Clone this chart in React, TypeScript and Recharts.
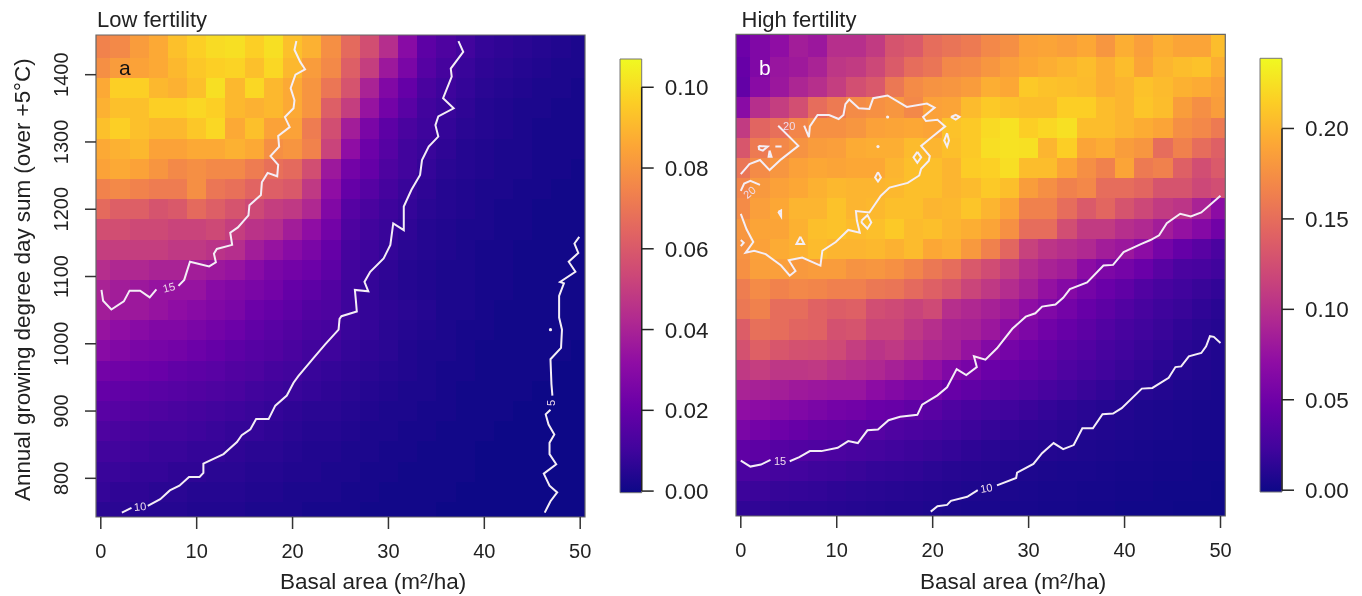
import { ScatterChart, Scatter, XAxis, YAxis, ReferenceArea, ReferenceDot, ReferenceLine } from "recharts";

const FONT = "'Liberation Sans', Arial, sans-serif";
const INK = "#222";
const CONTOUR = "#f4eef6";

// cell centres of the (reduced) grid
const basalArea = [0, 2, 4, 6, 8, 10, 12, 14, 16, 18, 20, 22, 24, 26, 28, 30, 32, 34, 36, 38, 40, 42, 44, 46, 48, 50];
const gddRows = [1440, 1410, 1380, 1350, 1320, 1290, 1260, 1230, 1200, 1170, 1140, 1110, 1080, 1050, 1020, 990, 960, 930, 900, 870, 840, 810, 780, 750];

const xTicks = [0, 10, 20, 30, 40, 50];
const yTicks = [800, 900, 1000, 1100, 1200, 1300, 1400];
const lowTicks = [0, 0.02, 0.04, 0.06, 0.08, 0.1];
const highTicks = [0, 0.05, 0.1, 0.15, 0.2];

// values in thousandths
const lowFertility = [
  [74, 76, 82, 86, 92, 96, 99, 100, 96, 100, 92, 88, 78, 66, 56, 44, 30, 18, 14, 11, 8, 7, 6, 5, 4, 3],
  [78, 82, 84, 86, 90, 94, 96, 97, 92, 98, 90, 82, 76, 62, 50, 36, 26, 16, 12, 9, 7, 6, 5, 4, 3, 3],
  [86, 96, 96, 90, 88, 92, 100, 90, 98, 90, 86, 80, 70, 58, 40, 28, 20, 13, 10, 8, 6, 5, 4, 3, 3, 2],
  [88, 92, 92, 96, 96, 98, 96, 90, 88, 90, 86, 80, 62, 50, 34, 24, 17, 11, 9, 7, 5, 4, 3, 3, 2, 2],
  [92, 96, 92, 90, 90, 94, 98, 86, 92, 84, 84, 72, 56, 38, 26, 18, 13, 10, 8, 6, 5, 4, 3, 2, 2, 2],
  [86, 88, 90, 84, 84, 86, 86, 88, 86, 78, 80, 74, 52, 32, 22, 16, 11, 9, 7, 5, 4, 3, 3, 2, 2, 2],
  [84, 86, 84, 80, 76, 78, 76, 76, 72, 68, 66, 56, 36, 24, 20, 14, 11, 8, 6, 5, 4, 3, 3, 2, 2, 1],
  [74, 76, 74, 72, 72, 78, 70, 68, 64, 62, 60, 48, 32, 20, 16, 12, 9, 7, 5, 4, 3, 3, 2, 2, 1, 1],
  [66, 62, 62, 58, 60, 66, 62, 58, 54, 50, 48, 42, 28, 16, 13, 10, 8, 6, 5, 4, 3, 2, 2, 1, 1, 1],
  [56, 56, 54, 54, 52, 52, 54, 50, 46, 44, 38, 32, 24, 14, 11, 9, 7, 5, 4, 3, 3, 2, 2, 1, 1, 1],
  [50, 50, 50, 50, 48, 48, 46, 44, 38, 34, 30, 26, 20, 12, 10, 8, 6, 5, 4, 3, 2, 2, 1, 1, 1, 1],
  [44, 42, 42, 40, 40, 38, 36, 34, 30, 26, 24, 22, 18, 11, 9, 7, 5, 4, 3, 3, 2, 2, 1, 1, 1, 1],
  [40, 38, 36, 34, 34, 34, 30, 28, 26, 24, 20, 18, 15, 10, 8, 6, 5, 4, 3, 3, 2, 2, 1, 1, 1, 1],
  [38, 36, 36, 34, 32, 30, 28, 26, 22, 20, 18, 15, 14, 10, 8, 7, 6, 5, 3, 3, 2, 1, 1, 1, 1, 1],
  [34, 32, 30, 28, 28, 26, 24, 22, 19, 17, 15, 13, 12, 9, 8, 6, 5, 4, 3, 2, 2, 1, 1, 1, 1, 1],
  [30, 28, 26, 25, 24, 22, 20, 18, 16, 15, 13, 11, 10, 8, 7, 6, 4, 3, 3, 2, 1, 1, 1, 1, 1, 0],
  [24, 23, 22, 21, 19, 18, 17, 15, 14, 12, 11, 9, 8, 7, 6, 5, 4, 3, 2, 2, 1, 1, 1, 1, 0, 0],
  [20, 19, 18, 17, 16, 15, 14, 13, 11, 10, 9, 8, 7, 6, 5, 4, 3, 3, 2, 1, 1, 1, 1, 0, 0, 0],
  [17, 16, 15, 14, 13, 12, 11, 10, 9, 8, 7, 6, 6, 5, 4, 3, 3, 2, 2, 1, 1, 1, 0, 0, 0, 0],
  [14, 13, 12, 11, 11, 10, 9, 8, 8, 7, 6, 5, 5, 4, 3, 3, 2, 2, 1, 1, 1, 0, 0, 0, 0, 0],
  [11, 11, 10, 9, 9, 8, 8, 7, 6, 6, 5, 4, 4, 3, 3, 2, 2, 1, 1, 1, 0, 0, 0, 0, 0, 0],
  [9, 9, 8, 8, 7, 7, 6, 6, 5, 5, 4, 4, 3, 3, 2, 2, 1, 1, 1, 1, 0, 0, 0, 0, 0, 0],
  [8, 7, 7, 6, 6, 5, 5, 5, 4, 4, 3, 3, 3, 2, 2, 1, 1, 1, 1, 0, 0, 0, 0, 0, 0, 0],
  [6, 6, 5, 5, 5, 4, 4, 4, 3, 3, 3, 2, 2, 2, 1, 1, 1, 1, 0, 0, 0, 0, 0, 0, 0, 0],
];

const highFertility = [
  [50, 62, 72, 85, 80, 100, 100, 110, 130, 135, 150, 155, 160, 170, 175, 188, 190, 186, 192, 180, 196, 186, 196, 190, 190, 205],
  [46, 62, 78, 82, 90, 106, 110, 120, 136, 150, 156, 170, 172, 180, 186, 192, 196, 200, 205, 196, 205, 190, 200, 205, 208, 196],
  [44, 68, 80, 92, 100, 112, 126, 134, 158, 172, 178, 180, 184, 196, 192, 212, 208, 206, 204, 196, 200, 208, 204, 198, 194, 188],
  [68, 100, 112, 126, 150, 160, 172, 176, 180, 170, 188, 190, 204, 212, 208, 205, 205, 215, 215, 205, 200, 210, 205, 185, 175, 185],
  [110, 144, 152, 168, 176, 176, 180, 188, 190, 192, 190, 208, 212, 222, 226, 215, 220, 225, 205, 205, 200, 195, 190, 175, 170, 160],
  [132, 160, 170, 178, 184, 186, 194, 196, 196, 204, 200, 206, 212, 224, 226, 225, 200, 215, 190, 195, 185, 180, 150, 165, 150, 140],
  [156, 172, 180, 188, 192, 190, 192, 192, 200, 206, 206, 200, 214, 216, 224, 205, 205, 190, 175, 165, 190, 160, 165, 140, 125, 135],
  [168, 182, 188, 192, 198, 202, 200, 200, 202, 206, 206, 200, 204, 212, 206, 185, 175, 165, 170, 150, 150, 145, 130, 130, 120, 125],
  [172, 186, 192, 200, 200, 208, 200, 202, 206, 206, 200, 202, 210, 200, 190, 165, 165, 150, 135, 145, 130, 120, 110, 105, 90, 70],
  [180, 190, 190, 198, 206, 208, 204, 206, 212, 204, 206, 200, 196, 190, 176, 150, 150, 125, 110, 110, 100, 95, 85, 75, 65, 52],
  [178, 188, 194, 198, 204, 200, 200, 202, 198, 204, 192, 196, 182, 165, 145, 115, 105, 100, 95, 85, 80, 70, 55, 45, 38, 30],
  [176, 186, 186, 182, 184, 184, 178, 180, 176, 168, 158, 150, 134, 124, 112, 98, 90, 85, 70, 60, 55, 48, 38, 30, 28, 24],
  [162, 172, 166, 170, 168, 164, 164, 158, 156, 148, 140, 132, 118, 108, 98, 88, 75, 65, 55, 48, 42, 34, 28, 24, 20, 17],
  [158, 165, 150, 150, 142, 138, 140, 125, 122, 116, 122, 100, 94, 88, 82, 72, 62, 54, 46, 40, 34, 28, 23, 20, 16, 13],
  [138, 152, 150, 144, 142, 128, 130, 118, 118, 108, 100, 90, 88, 80, 70, 60, 52, 46, 40, 34, 28, 24, 20, 16, 13, 11],
  [128, 140, 132, 128, 126, 122, 112, 104, 108, 100, 92, 88, 76, 64, 55, 50, 44, 38, 34, 28, 24, 20, 17, 13, 11, 9],
  [108, 112, 106, 106, 108, 102, 98, 94, 88, 82, 74, 62, 56, 48, 46, 42, 38, 32, 28, 24, 20, 17, 13, 11, 9, 8],
  [90, 88, 86, 82, 80, 78, 78, 70, 64, 58, 56, 46, 42, 38, 35, 32, 28, 24, 20, 17, 14, 12, 10, 8, 7, 6],
  [72, 70, 66, 62, 58, 54, 52, 48, 46, 42, 38, 32, 28, 25, 24, 21, 18, 15, 13, 11, 10, 8, 7, 6, 5, 5],
  [58, 54, 50, 46, 42, 40, 38, 36, 32, 30, 28, 25, 22, 19, 17, 15, 14, 12, 10, 9, 8, 7, 6, 5, 4, 4],
  [42, 40, 36, 34, 32, 30, 28, 26, 24, 22, 20, 18, 15, 13, 12, 11, 10, 9, 8, 7, 6, 5, 4, 4, 3, 3],
  [30, 29, 26, 25, 23, 22, 20, 18, 17, 16, 14, 12, 11, 10, 9, 8, 7, 6, 6, 5, 4, 4, 3, 3, 2, 2],
  [22, 21, 19, 18, 17, 15, 14, 13, 12, 11, 10, 9, 8, 7, 7, 6, 5, 5, 4, 4, 3, 3, 2, 2, 2, 1],
  [16, 16, 14, 13, 13, 12, 11, 10, 9, 9, 8, 7, 6, 6, 5, 5, 4, 4, 3, 3, 2, 2, 2, 1, 1, 1],
];

type Pt = [number, number];

// contours, panel a
const low15top: Pt[] = [[20.4, 1450], [20.2, 1437], [20.8, 1419], [21.3, 1408], [20.3, 1400], [19.8, 1380], [20.2, 1362], [20.1, 1350], [19.2, 1337], [19.7, 1322], [18.5, 1309], [18.6, 1293], [17.7, 1279], [18.5, 1266], [18.4, 1249], [17.4, 1254], [16.8, 1240], [16.7, 1221], [15.5, 1206], [15.4, 1191], [14.3, 1173], [13.5, 1165], [13.7, 1147], [12.1, 1141], [11.8, 1134], [12, 1121], [11.3, 1115], [9.3, 1122], [8.7, 1095], [8.1, 1086]];
const low15end: Pt[] = [[5.8, 1081], [5.1, 1069], [4.1, 1079], [3, 1079], [2.4, 1063], [1.1, 1051], [0.24, 1064], [0.07, 1080]];
const low10start: Pt[] = [[2.2, 749], [3.2, 756]];
const low10rest: Pt[] = [[4.9, 759], [6.2, 769], [7.2, 782], [8.2, 789], [9.2, 802], [10.3, 802], [10.7, 808], [10.7, 822], [12.8, 836], [14.2, 854], [14.7, 864], [15.6, 873], [16.2, 888], [17.5, 888], [18.2, 908], [19.4, 923], [20.1, 942], [20.6, 952], [22.2, 979], [23.4, 999], [24.8, 1021], [24.9, 1037], [25.1, 1041], [26.7, 1048], [26.6, 1065], [26.5, 1080], [27.9, 1078], [27.5, 1092], [28.1, 1107], [29.5, 1127], [30.2, 1147], [30.5, 1179], [31.6, 1169], [31.6, 1204], [32.4, 1229], [33.3, 1251], [33.5, 1273], [34.2, 1293], [35.2, 1308], [34.9, 1325], [35.2, 1338], [36.8, 1350], [35.7, 1365], [36.6, 1397], [36.5, 1409], [37.8, 1434], [37.3, 1450]];
const low5start: Pt[] = [[46.3, 749], [46.9, 766], [47.6, 779], [46.8, 789], [46.2, 807], [47.5, 821], [46.8, 836], [46.8, 853], [47.3, 865], [46.7, 880], [46.4, 895], [46.9, 902]];
const low5rest: Pt[] = [[47.1, 923], [47, 940], [46.9, 977], [48, 994], [48.1, 1021], [47.8, 1039], [47.8, 1071], [47.9, 1075], [48.3, 1090], [47.9, 1092], [49.5, 1107], [48.8, 1122], [49.8, 1135], [49.4, 1149], [49.9, 1159]];

// contours, panel b
const high20left: Pt[] = [[0, 1251], [0.9, 1266], [2, 1272], [3, 1257], [4.2, 1273], [6, 1293], [3.9, 1323]];
const high20main: Pt[] = [[6.6, 1323], [7.1, 1306], [7.2, 1322], [8, 1339], [9.2, 1339], [10.2, 1333], [10.7, 1339], [10.9, 1355], [11.3, 1362], [12.3, 1349], [13.4, 1348], [13.8, 1364], [15.3, 1368], [17.3, 1351], [19.4, 1356], [20.2, 1350], [19, 1336], [19.3, 1330], [20.5, 1332], [21.3, 1322], [19.9, 1306], [18.8, 1293], [19.7, 1278], [19.6, 1271], [18.8, 1259], [18.6, 1249], [17.4, 1238], [15.5, 1231], [14.6, 1219], [13.4, 1194], [12, 1196], [12.1, 1182], [12.4, 1164], [11.2, 1168], [9.9, 1150], [8.5, 1137], [8.3, 1115], [6.4, 1127], [5, 1123], [5.7, 1107], [5.1, 1100], [4.2, 1115], [2.6, 1132], [1.4, 1137], [0.5, 1134], [1.3, 1150], [0.6, 1169], [0, 1192]];
const high20arc: Pt[] = [[0, 1226], [0.35, 1237], [1, 1241], [2, 1235]];
const high20islands: Pt[][] = [
  [[1.85, 1293], [2.8, 1292], [2.3, 1286], [1.9, 1288], [1.85, 1293]],
  [[3.6, 1292], [4.25, 1292]],
  [[3, 1286], [3.2, 1277], [2.9, 1277], [3, 1286]],
  [[3.9, 1195], [4.2, 1197], [4.2, 1188], [3.9, 1195]],
  [[6.2, 1158], [6.6, 1147], [5.8, 1147], [6.2, 1158]],
  [[0, 1153], [0.3, 1149], [0, 1144]],
  [[14.3, 1254], [14.6, 1246], [14.3, 1240], [14, 1246], [14.3, 1254]],
  [[18.4, 1284], [18.8, 1276], [18.4, 1268], [18, 1276], [18.4, 1284]],
  [[12.6, 1182], [13.2, 1190], [13.6, 1179], [13.2, 1170], [12.6, 1179], [12.6, 1182]],
  [[21.5, 1312], [21.7, 1301], [21.5, 1292], [21.2, 1301], [21.5, 1312]],
  [[21.9, 1336], [22.4, 1339], [22.8, 1336], [22.4, 1332], [21.9, 1336]],
];
const high15start: Pt[] = [[0, 825], [1, 816], [2.1, 819], [3.1, 826]];
const high15rest: Pt[] = [[5.1, 824], [6.1, 830], [7.2, 839], [8.4, 839], [10.1, 844], [11.2, 854], [12.2, 851], [13.2, 870], [14.3, 871], [15.4, 885], [16.6, 890], [18.4, 893], [18.9, 908], [20.5, 922], [21.5, 934], [22.5, 961], [23.5, 952], [24.6, 964], [24.3, 980], [25.5, 975], [26.7, 992], [28.3, 1021], [29.7, 1039], [30.7, 1044], [31.4, 1054], [32.8, 1057], [33.6, 1067], [34.3, 1080], [36.1, 1090], [37.8, 1115], [38.8, 1116], [39.9, 1135], [41.7, 1147], [42.7, 1153], [43.6, 1160], [44.4, 1178], [45.8, 1192], [46.9, 1188], [48, 1194], [50, 1219]];
const high10start: Pt[] = [[19.8, 749], [20.5, 757], [21.5, 759], [21.9, 765], [23.6, 771], [24.7, 781]];
const high10rest: Pt[] = [[26.7, 788], [28.7, 799], [28.8, 807], [30.5, 820], [31.4, 836], [32.6, 851], [33.6, 842], [34.7, 848], [35.6, 873], [36.7, 873], [37.7, 894], [38.8, 895], [39.7, 903], [41.8, 932], [42.9, 933], [44.6, 948], [45.3, 964], [45.9, 965], [46.7, 980], [48, 985], [48.5, 995], [48.9, 1010], [49.3, 1009], [50, 1000]];

const lowLabels = [
  { x: 7.1, y: 1084, text: "15", angle: -15 },
  { x: 4.1, y: 758, text: "10", angle: -5 },
  { x: 47.0, y: 912, text: "5", angle: -90 },
];
const highLabels = [
  { x: 5.05, y: 1322, text: "20", angle: 0 },
  { x: 0.9, y: 1224, text: "20", angle: -40 },
  { x: 4.1, y: 825, text: "15", angle: 0 },
  { x: 25.6, y: 784, text: "10", angle: -10 },
];
const lowSpots: Pt[] = [[46.9, 1021]];
const highSpots: Pt[] = [[15.3, 1336], [14.3, 1292]];

const plasmaStops = ["#0d0887", "#41049d", "#6a00a8", "#8f0da4", "#b12a90", "#cc4778", "#e16462", "#f2844b", "#fca636", "#fcce25", "#f0f921"];

function plasma(t: number) {
  const u = Math.min(1, Math.max(0, t)) * (plasmaStops.length - 1);
  const i = Math.min(plasmaStops.length - 2, Math.floor(u));
  const f = u - i;
  const rgb = (h: string) => [1, 3, 5].map((k) => parseInt(h.slice(k, k + 2), 16));
  const a = rgb(plasmaStops[i]);
  const b = rgb(plasmaStops[i + 1]);
  return `rgb(${a.map((v, k) => Math.round(v + (b[k] - v) * f)).join(",")})`;
}

const X_DOMAIN: [number, number] = [-0.5, 50.5];
const Y_DOMAIN: [number, number] = [742.5, 1459];

const pts = (line: Pt[]) => line.map(([x, y]) => ({ x, y }));
const noPoint = () => null;

function CellRect(props: any) {
  return <rect x={props.x} y={props.y} width={props.width} height={props.height} fill={props.fill} shapeRendering="crispEdges" />;
}

function YTickRotated({ y, payload }: any) {
  return (
    <text x={68} y={y} transform={`rotate(-90 68 ${y})`} textAnchor="middle" fontSize={20} fontFamily={FONT} fill={INK}>
      {payload.value}
    </text>
  );
}

interface HeatPanelProps {
  box: { left: number; right: number; top: number; bottom: number };
  values: number[][];
  maxValue: number;
  lines: Pt[][];
  labels: { x: number; y: number; text: string; angle: number }[];
  spots: Pt[];
  yLabels: boolean;
}

function HeatPanel({ box, values, maxValue, lines, labels, spots, yLabels }: HeatPanelProps) {
  return (
    <div style={{ position: "absolute", left: 0, top: 0 }}>
      <ScatterChart
        width={1362}
        height={596}
        margin={{ left: box.left - 40, right: 1362 - box.right, top: box.top, bottom: 596 - box.bottom - 50 }}
      >
        <XAxis
          type="number"
          dataKey="x"
          domain={X_DOMAIN}
          ticks={xTicks}
          height={50}
          allowDataOverflow
          axisLine={false}
          tickSize={12}
          tickMargin={15}
          tickLine={{ stroke: "#333", strokeWidth: 1.5 }}
          tick={{ fontSize: 20, fontFamily: FONT, fill: INK }}
        />
        <YAxis
          type="number"
          dataKey="y"
          domain={Y_DOMAIN}
          ticks={yTicks}
          width={40}
          allowDataOverflow
          axisLine={false}
          tickSize={11}
          tickLine={{ stroke: "#333", strokeWidth: 1.5 }}
          tick={yLabels ? <YTickRotated /> : false}
        />
        {gddRows.map((g, r) =>
          basalArea.map((b, c) => (
            <ReferenceArea
              key={`${r}-${c}`}
              x1={Math.max(X_DOMAIN[0], b - 1)}
              x2={Math.min(X_DOMAIN[1], b + 1)}
              y1={Math.max(Y_DOMAIN[0], g - 15)}
              y2={r === 0 ? Y_DOMAIN[1] : g + 15}
              fill={plasma(values[r][c] / maxValue)}
              ifOverflow="visible"
              shape={CellRect}
            />
          ))
        )}
        <ReferenceArea
          x1={X_DOMAIN[0]}
          x2={X_DOMAIN[1]}
          y1={Y_DOMAIN[0]}
          y2={Y_DOMAIN[1]}
          fill="none"
          stroke="#666"
          strokeWidth={1.2}
          ifOverflow="visible"
        />
        {lines.map((line, i) => (
          <Scatter
            key={i}
            data={pts(line)}
            line={{ stroke: CONTOUR, strokeWidth: 2 }}
            shape={noPoint}
            legendType="none"
            isAnimationActive={false}
          />
        ))}
        {spots.map(([x, y], i) => (
          <ReferenceDot key={i} x={x} y={y} r={1.6} fill={CONTOUR} stroke="none" ifOverflow="visible" />
        ))}
        {labels.map((l, i) => (
          <ReferenceDot
            key={i}
            x={l.x}
            y={l.y}
            ifOverflow="visible"
            shape={(p: any) => (
              <text
                x={p.cx}
                y={p.cy}
                transform={`rotate(${l.angle} ${p.cx} ${p.cy})`}
                textAnchor="middle"
                dominantBaseline="central"
                fontSize={11}
                fontFamily={FONT}
                fill="#f0dcec"
              >
                {l.text}
              </text>
            )}
          />
        ))}
      </ScatterChart>
    </div>
  );
}

interface ColorBarProps {
  id: string;
  left: number;
  right: number;
  top: number;
  bottom: number;
  domain: [number, number];
  ticks: number[];
}

function ColorBar({ id, left, right, top, bottom, domain, ticks }: ColorBarProps) {
  return (
    <div style={{ position: "absolute", left: 0, top: 0 }}>
      <ScatterChart
        width={1362}
        height={596}
        margin={{ left, right: 1362 - right - 80, top, bottom: 596 - bottom }}
      >
        <defs>
          <linearGradient id={id} x1="0" y1="1" x2="0" y2="0">
            {plasmaStops.map((c, i) => (
              <stop key={c} offset={i / (plasmaStops.length - 1)} stopColor={c} />
            ))}
          </linearGradient>
        </defs>
        <XAxis type="number" dataKey="x" domain={[0, 1]} allowDataOverflow hide />
        <YAxis
          type="number"
          dataKey="y"
          orientation="right"
          domain={domain}
          ticks={ticks}
          width={80}
          allowDataOverflow
          interval={0}
          axisLine={false}
          tickSize={12}
          tickMargin={11}
          tickFormatter={(v: number) => v.toFixed(2)}
          tickLine={{ stroke: "#222", strokeWidth: 1.5 }}
          tick={{ fontSize: 22.5, fontFamily: FONT, fill: INK, textAnchor: "start" }}
        />
        <Scatter data={ticks.map((y) => ({ x: 1, y }))} shape={noPoint} legendType="none" isAnimationActive={false} />
        <ReferenceArea
          x1={0}
          x2={1}
          y1={domain[0]}
          y2={domain[1]}
          fill={`url(#${id})`}
          fillOpacity={1}
          stroke="#777"
          strokeWidth={1}
          ifOverflow="visible"
        />
        <ReferenceLine
          segment={[
            { x: 1, y: ticks[0] },
            { x: 1, y: ticks[ticks.length - 1] },
          ]}
          stroke="#222"
          strokeWidth={1.5}
          ifOverflow="visible"
        />
      </ScatterChart>
    </div>
  );
}

export default function App() {
  return (
    <div style={{ position: "absolute", left: 0, top: 0, width: 1362, height: 596, background: "#fff", overflow: "hidden", filter: "blur(0.4px)" }}>
      <HeatPanel
        box={{ left: 96, right: 585, top: 35, bottom: 517 }}
        values={lowFertility}
        maxValue={106.5}
        lines={[low15top, low15end, low10start, low10rest, low5start, low5rest]}
        labels={lowLabels}
        spots={lowSpots}
        yLabels
      />
      <HeatPanel
        box={{ left: 736, right: 1225.3, top: 34.3, bottom: 516 }}
        values={highFertility}
        maxValue={239}
        lines={[high20left, high20main, high20arc, ...high20islands, high15start, high15rest, high10start, high10rest]}
        labels={highLabels}
        spots={highSpots}
        yLabels={false}
      />
      <ColorBar id="barLow" left={620} right={641.7} top={59} bottom={492.7} domain={[-0.0004, 0.107]} ticks={lowTicks} />
      <ColorBar id="barHigh" left={1260} right={1282} top={58.3} bottom={492} domain={[-0.001, 0.2388]} ticks={highTicks} />
      <svg width={1362} height={596} style={{ position: "absolute", left: 0, top: 0, pointerEvents: "none" }} fontFamily={FONT} fill={INK}>
        <text x={97} y={27} fontSize={22}>Low fertility</text>
        <text x={741.5} y={27} fontSize={22}>High fertility</text>
        <text x={119} y={75} fontSize={21} fill="#111">a</text>
        <text x={759} y={75} fontSize={21} fill="#fff">b</text>
        <text x={280} y={589} fontSize={22.5}>Basal area (m²/ha)</text>
        <text x={920} y={589} fontSize={22.5}>Basal area (m²/ha)</text>
        <text transform="rotate(-90 30 501)" x={30} y={501} fontSize={22.4}>Annual growing degree day sum (over +5°C)</text>
      </svg>
    </div>
  );
}
